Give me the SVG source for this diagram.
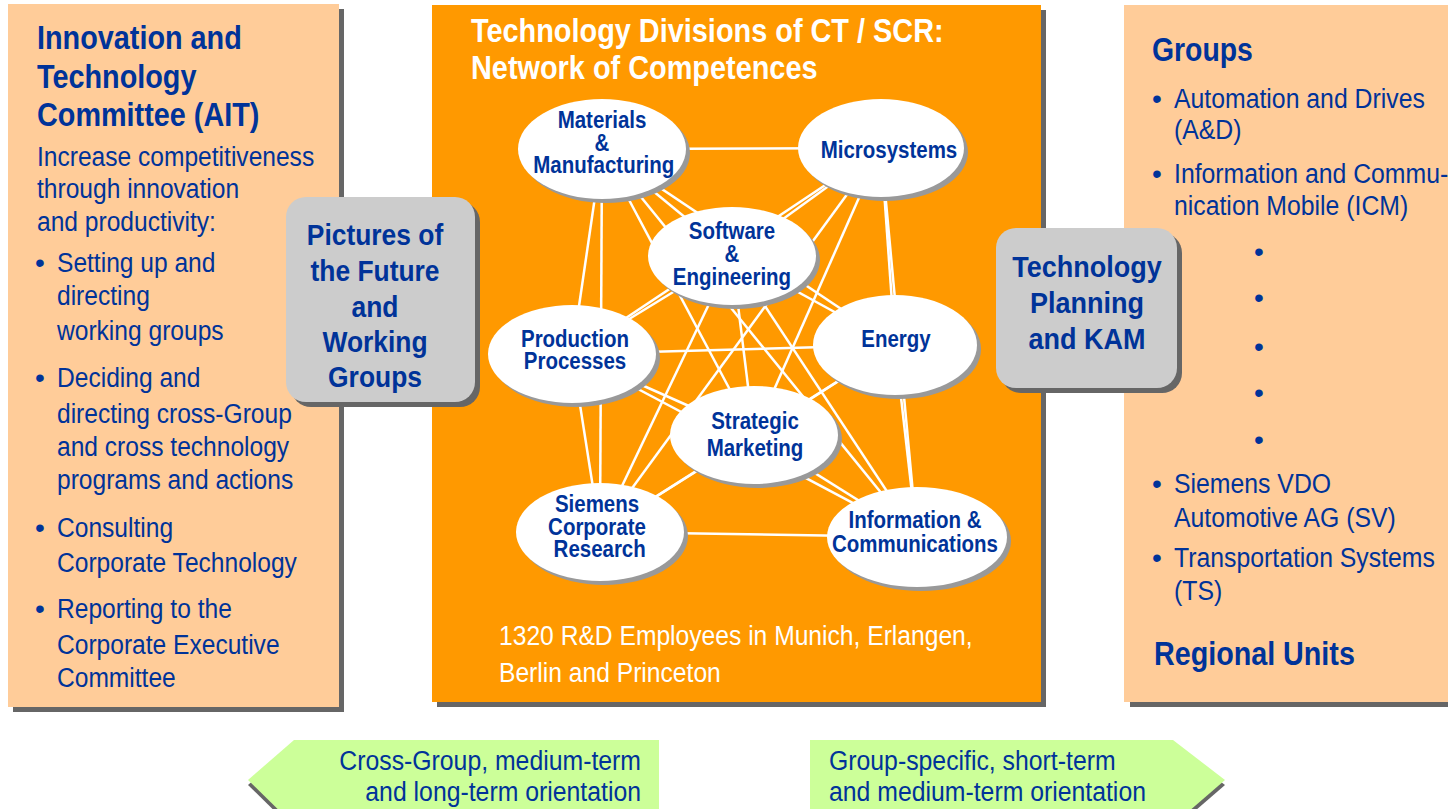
<svg xmlns="http://www.w3.org/2000/svg" width="1448" height="809" viewBox="0 0 1448 809">
<style>
text{font-family:"Liberation Sans",Arial,sans-serif}
.nv{fill:#003399}
.wh{fill:#ffffff}
.b{font-weight:bold}
.h33{font-size:33px;font-weight:bold}
.r28{font-size:28px}
.h30{font-size:30px;font-weight:bold}
.e24{font-size:23px;font-weight:bold;fill:#003399;text-anchor:middle}
.mid{text-anchor:middle}
.end{text-anchor:end}
.sh{fill:#666666}
.peach{fill:#FFCC99}
.gbox{fill:#CCCCCC}
.ell{fill:#ffffff}
.esh{fill:#999999}
.arr{fill:#CCFF99}
#connectors line{stroke:#ffffff;stroke-width:2.5}
</style>

<g id="panel-left">
<rect class="sh" x="13" y="9" width="331" height="703"/>
<rect class="peach" x="8" y="4" width="331" height="703"/>
<text class="h33 nv" transform="translate(37,0) scale(0.873,1)"><tspan x="0" y="49">Innovation and</tspan><tspan x="0" y="88">Technology</tspan><tspan x="0" y="126">Committee (AIT)</tspan></text>
<text class="r28 nv" transform="translate(37,0) scale(0.878,1)"><tspan x="0" y="166">Increase competitiveness</tspan><tspan x="0" y="198">through innovation</tspan><tspan x="0" y="231">and productivity:</tspan></text>
<g class="r28 nv">
<text x="35" y="272">•</text>
<text x="35" y="387">•</text>
<text x="35" y="537">•</text>
<text x="35" y="618">•</text>
</g>
<text class="r28 nv" transform="translate(57,0) scale(0.878,1)"><tspan x="0" y="272">Setting up and</tspan><tspan x="0" y="305">directing</tspan><tspan x="0" y="340">working groups</tspan><tspan x="0" y="387">Deciding and</tspan><tspan x="0" y="423">directing cross-Group</tspan><tspan x="0" y="456">and cross technology</tspan><tspan x="0" y="489">programs and actions</tspan><tspan x="0" y="537">Consulting</tspan><tspan x="0" y="572">Corporate Technology</tspan><tspan x="0" y="618">Reporting to the</tspan><tspan x="0" y="654">Corporate Executive</tspan><tspan x="0" y="687">Committee</tspan></text>
</g>

<g id="panel-right">
<rect class="sh" x="1130" y="10" width="330" height="697"/>
<rect class="peach" x="1124" y="5" width="330" height="697"/>
<text class="h33 nv" transform="translate(1152,0) scale(0.86,1)"><tspan x="0" y="61">Groups</tspan></text>
<g class="r28 nv">
<text x="1152" y="108">•</text>
<text x="1152" y="183">•</text>
<text x="1254" y="261">•</text>
<text x="1254" y="307">•</text>
<text x="1254" y="356">•</text>
<text x="1254" y="402">•</text>
<text x="1254" y="449">•</text>
<text x="1152" y="493">•</text>
<text x="1152" y="567">•</text>
</g>
<text class="r28 nv" transform="translate(1174,0) scale(0.886,1)"><tspan x="0" y="108">Automation and Drives</tspan><tspan x="0" y="139">(A&amp;D)</tspan><tspan x="0" y="183">Information and Commu-</tspan><tspan x="0" y="215">nication Mobile (ICM)</tspan><tspan x="0" y="493">Siemens VDO</tspan><tspan x="0" y="527">Automotive AG (SV)</tspan><tspan x="0" y="567">Transportation Systems</tspan><tspan x="0" y="600">(TS)</tspan></text>
<text class="h33 nv" transform="translate(1154,0) scale(0.87,1)"><tspan x="0" y="665">Regional Units</tspan></text>
</g>

<g id="panel-center">
<rect class="sh" x="437" y="10" width="609" height="697"/>
<rect x="432" y="5" width="609" height="697" fill="#FF9900"/>
<text class="h33 wh" transform="translate(471,0) scale(0.875,1)"><tspan x="0" y="42">Technology Divisions of CT / SCR:</tspan><tspan x="0" y="79">Network of Competences</tspan></text>
<text class="r28 wh" transform="translate(499,0) scale(0.88,1)"><tspan x="0" y="645">1320 R&amp;D Employees in Munich, Erlangen,</tspan><tspan x="0" y="682">Berlin and Princeton</tspan></text>
</g>

<g id="connectors">
<line x1="602" y1="149" x2="881" y2="148"/>
<line x1="602" y1="149" x2="732" y2="256"/>
<line x1="602" y1="149" x2="572" y2="354"/>
<line x1="602" y1="149" x2="895" y2="345"/>
<line x1="602" y1="149" x2="754" y2="435"/>
<line x1="602" y1="149" x2="600" y2="532"/>
<line x1="602" y1="149" x2="917" y2="537"/>
<line x1="881" y1="148" x2="732" y2="256"/>
<line x1="881" y1="148" x2="572" y2="354"/>
<line x1="881" y1="148" x2="895" y2="345"/>
<line x1="881" y1="148" x2="754" y2="435"/>
<line x1="881" y1="148" x2="600" y2="532"/>
<line x1="881" y1="148" x2="917" y2="537"/>
<line x1="732" y1="256" x2="572" y2="354"/>
<line x1="732" y1="256" x2="895" y2="345"/>
<line x1="732" y1="256" x2="754" y2="435"/>
<line x1="732" y1="256" x2="600" y2="532"/>
<line x1="732" y1="256" x2="917" y2="537"/>
<line x1="572" y1="354" x2="895" y2="345"/>
<line x1="572" y1="354" x2="754" y2="435"/>
<line x1="572" y1="354" x2="600" y2="532"/>
<line x1="572" y1="354" x2="917" y2="537"/>
<line x1="895" y1="345" x2="754" y2="435"/>
<line x1="895" y1="345" x2="600" y2="532"/>
<line x1="895" y1="345" x2="917" y2="537"/>
<line x1="754" y1="435" x2="600" y2="532"/>
<line x1="754" y1="435" x2="917" y2="537"/>
<line x1="600" y1="532" x2="917" y2="537"/>
</g>

<g id="node-materials">
<ellipse class="esh" cx="606" cy="153" rx="84" ry="50"/>
<ellipse class="ell" cx="602" cy="149" rx="84" ry="50"/>
<text class="e24" transform="translate(602,0) scale(0.89,1)"><tspan x="0" y="128">Materials</tspan><tspan x="0" y="151">&amp;</tspan><tspan x="2" y="173">Manufacturing</tspan></text>
</g>
<g id="node-microsystems">
<ellipse class="esh" cx="885" cy="152" rx="83" ry="49"/>
<ellipse class="ell" cx="881" cy="148" rx="83" ry="49"/>
<text class="e24" transform="translate(889,0) scale(0.89,1)"><tspan x="0" y="158">Microsystems</tspan></text>
</g>
<g id="node-software">
<ellipse class="esh" cx="736" cy="260" rx="84" ry="49"/>
<ellipse class="ell" cx="732" cy="256" rx="84" ry="49"/>
<text class="e24" transform="translate(732,0) scale(0.89,1)"><tspan x="0" y="239">Software</tspan><tspan x="0" y="262">&amp;</tspan><tspan x="0" y="285">Engineering</tspan></text>
</g>
<g id="node-production">
<ellipse class="esh" cx="576" cy="358" rx="84" ry="49"/>
<ellipse class="ell" cx="572" cy="354" rx="84" ry="49"/>
<text class="e24" transform="translate(575,0) scale(0.89,1)"><tspan x="0" y="347">Production</tspan><tspan x="0" y="369">Processes</tspan></text>
</g>
<g id="node-energy">
<ellipse class="esh" cx="899" cy="349" rx="82" ry="50"/>
<ellipse class="ell" cx="895" cy="345" rx="82" ry="50"/>
<text class="e24" transform="translate(896,0) scale(0.89,1)"><tspan x="0" y="347">Energy</tspan></text>
</g>
<g id="node-strategic">
<ellipse class="esh" cx="758" cy="439" rx="84" ry="49"/>
<ellipse class="ell" cx="754" cy="435" rx="84" ry="49"/>
<text class="e24" transform="translate(755,0) scale(0.89,1)"><tspan x="0" y="429">Strategic</tspan><tspan x="0" y="456">Marketing</tspan></text>
</g>
<g id="node-siemens">
<ellipse class="esh" cx="604" cy="536" rx="84" ry="49"/>
<ellipse class="ell" cx="600" cy="532" rx="84" ry="49"/>
<text class="e24" transform="translate(597,0) scale(0.89,1)"><tspan x="0" y="512">Siemens</tspan><tspan x="0" y="535">Corporate</tspan><tspan x="3" y="557">Research</tspan></text>
</g>
<g id="node-infocomm">
<ellipse class="esh" cx="921" cy="541" rx="90" ry="50"/>
<ellipse class="ell" cx="917" cy="537" rx="90" ry="50"/>
<text class="e24" transform="translate(915,0) scale(0.89,1)"><tspan x="0" y="528">Information &amp;</tspan><tspan x="0" y="552">Communications</tspan></text>
</g>

<g id="node-pictures">
<rect class="sh" x="291" y="202" width="189" height="205" rx="20"/>
<rect class="gbox" x="286" y="197" width="189" height="205" rx="20"/>
<text class="h30 nv mid" transform="translate(375,0) scale(0.88,1)"><tspan x="0" y="245">Pictures of</tspan><tspan x="0" y="281">the Future</tspan><tspan x="0" y="317">and</tspan><tspan x="0" y="352">Working</tspan><tspan x="0" y="387">Groups</tspan></text>
</g>

<g id="node-techplanning">
<rect class="sh" x="1001" y="233" width="181" height="160" rx="20"/>
<rect class="gbox" x="996" y="228" width="181" height="160" rx="20"/>
<text class="h30 nv mid" transform="translate(1087,0) scale(0.9,1)"><tspan x="0" y="277">Technology</tspan><tspan x="0" y="313">Planning</tspan><tspan x="0" y="349">and KAM</tspan></text>
</g>

<g id="arrow-left">
<polygon class="sh" points="294,745 659,745 659,830 294,830 248,785"/>
<polygon class="arr" points="294,740 659,740 659,825 294,825 248,780"/>
<text class="r28 nv end" transform="translate(641,0) scale(0.886,1)"><tspan x="0" y="770">Cross-Group, medium-term</tspan><tspan x="0" y="801">and long-term orientation</tspan></text>
</g>

<g id="arrow-right">
<polygon class="sh" points="810,745 1173,745 1225,785 1173,830 810,830"/>
<polygon class="arr" points="810,740 1173,740 1225,780 1173,825 810,825"/>
<text class="r28 nv" transform="translate(829,0) scale(0.886,1)"><tspan x="0" y="770">Group-specific, short-term</tspan><tspan x="0" y="801">and medium-term orientation</tspan></text>
</g>
</svg>
